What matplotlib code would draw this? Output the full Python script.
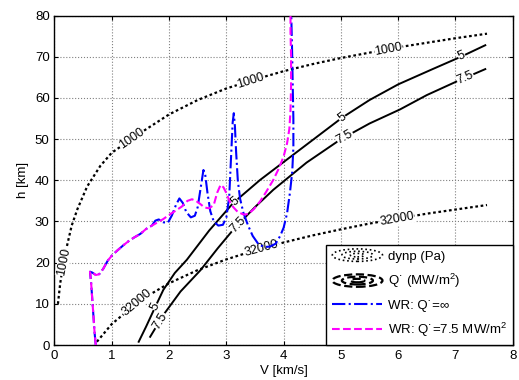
import numpy as np
import matplotlib
matplotlib.use("Agg")
import matplotlib.pyplot as plt
from matplotlib.lines import Line2D
from matplotlib.patches import Ellipse
from matplotlib.legend_handler import HandlerBase

plt.rcParams['font.family'] = ['Liberation Sans', 'DejaVu Sans']
plt.rcParams['mathtext.fontset'] = 'custom'
plt.rcParams['mathtext.rm'] = 'Liberation Sans'
plt.rcParams['mathtext.it'] = 'Liberation Sans'

# dynamic pressure contours (V [km/s], h [km])
dp1000_v = [0.06, 0.10, 0.15, 0.20, 0.30, 0.40, 0.57, 0.80, 1.0, 1.5, 2.0, 2.5, 3.0,
            3.5, 4.0, 4.5, 5.0, 5.5, 6.0, 6.5, 7.0, 7.55]
dp1000_h = [10.0, 15.0, 19.5, 23.0, 29.0, 33.0, 38.5, 43.5, 46.7, 51.5, 56.0, 59.5, 62.3,
            64.5, 66.5, 68.2, 69.7, 71.0, 72.3, 73.4, 74.5, 75.6]
dp32000_v = [0.74, 1.0, 1.5, 2.0, 2.5, 3.0, 3.5, 4.0, 4.5, 5.0, 5.5, 6.0, 6.5, 7.0, 7.55]
dp32000_h = [0.8, 5.1, 10.9, 15.0, 18.2, 20.8, 23.0, 24.9, 26.6, 28.1, 29.5, 30.7, 31.9, 32.9, 34.0]

# heat flux contours
q5_v = [1.47, 1.6, 1.75, 1.9, 2.1, 2.31, 2.7, 3.12, 3.59, 4.29, 5.02, 5.5, 6.0, 6.6, 7.11, 7.52]
q5_h = [0.8, 4.5, 9.0, 13.4, 17.5, 20.7, 27.8, 34.5, 40.1, 47.5, 55.2, 59.5, 63.3, 67.0, 70.1, 72.8]
q75_v = [1.67, 1.9, 2.2, 2.55, 2.85, 3.12, 3.5, 3.82, 4.4, 4.99, 5.5, 6.03, 6.5, 7.02, 7.52]
q75_h = [2.0, 7.3, 13.0, 18.2, 23.5, 28.0, 33.5, 37.7, 44.3, 49.9, 53.8, 57.2, 60.7, 64.0, 67.0]

# WR trajectories
wr_low_v = [0.72, 0.70, 0.68, 0.66, 0.64, 0.62, 0.66, 0.72, 0.78, 0.85, 0.93, 1.0, 1.1,
            1.2, 1.3, 1.4, 1.5, 1.6, 1.7]
wr_low_h = [0.0, 3.0, 7.0, 11.0, 15.0, 17.8, 17.6, 17.0, 17.2, 18.5, 20.5, 21.7, 23.0,
            24.2, 25.3, 26.2, 27.0, 28.2, 29.0]

wr_inf_v = wr_low_v + [1.76, 1.82, 1.9, 1.98, 2.05, 2.12, 2.18, 2.24, 2.3, 2.38, 2.45, 2.5,
                       2.55, 2.6, 2.63, 2.67, 2.72, 2.78, 2.86, 2.94, 3.0, 3.05, 3.08, 3.11,
                       3.13, 3.15, 3.17, 3.2, 3.24, 3.3, 3.38, 3.46, 3.56, 3.66, 3.76, 3.86,
                       3.94, 4.0, 4.06, 4.11, 4.15, 4.17, 4.17, 4.16, 4.15, 4.14, 4.13]
wr_inf_h = wr_low_h + [30.2, 30.5, 29.8, 29.7, 31.5, 34.0, 35.6, 34.5, 32.3, 31.0, 31.4, 33.5,
                       38.0, 42.5, 41.5, 37.0, 32.5, 30.0, 29.0, 29.2, 31.0, 36.0, 45.0, 54.0,
                       56.3, 53.0, 47.0, 40.0, 35.5, 32.0, 29.0, 26.5, 24.5, 23.8, 23.9, 24.6,
                       26.5, 28.5, 32.0, 37.0, 42.0, 48.0, 55.0, 62.0, 70.0, 76.0, 82.0]

wr_q75_v = wr_low_v + [1.8, 1.9, 2.0, 2.1, 2.22, 2.32, 2.4, 2.47, 2.54, 2.62, 2.7, 2.78,
                       2.84, 2.9, 2.95, 3.0, 3.06, 3.12, 3.2, 3.3, 3.38, 3.48, 3.59, 3.7,
                       3.82, 3.92, 4.0, 4.06, 4.1, 4.12, 4.13, 4.13, 4.12, 4.12]
wr_q75_h = wr_low_h + [29.8, 30.6, 31.6, 32.5, 33.6, 35.0, 35.4, 35.0, 34.3, 33.4, 33.2, 34.0,
                       37.0, 38.9, 38.3, 36.9, 34.8, 33.5, 32.3, 31.7, 31.8, 33.0, 34.9, 37.3,
                       40.1, 43.0, 45.8, 49.0, 52.5, 57.0, 63.0, 70.0, 76.0, 82.0]

# where the contour labels sit (V)
dp1000_lab = [0.16, 1.35, 3.42, 5.83]
dp32000_lab = [1.44, 3.62, 5.98]
q5_lab = [1.76, 3.15, 5.02, 7.11]
q75_lab = [1.84, 3.2, 5.07, 7.17]


class RingHandler(HandlerBase):
    def __init__(self, ls, lw):
        super().__init__()
        self.ls = ls
        self.lw = lw

    def create_artists(self, legend, orig_handle, xdescent, ydescent, width, height,
                       fontsize, trans):
        cx = width / 2 - xdescent
        cy = height / 2 - ydescent
        out = []
        for s in [1.0, 0.62, 0.28]:
            e = Ellipse((cx, cy), width * s, height * 1.35 * s, fill=False, ec='k',
                        ls=self.ls, lw=self.lw, transform=trans)
            out.append(e)
        return out


def label_line(ax, xs, ys, spots, txt):
    xs = np.asarray(xs)
    ys = np.asarray(ys)
    for v in spots:
        h = np.interp(v, xs, ys)
        i = int(np.clip(np.searchsorted(xs, v), 1, len(xs) - 1))
        ang = np.degrees(np.arctan2(ys[i] - ys[i - 1], xs[i] - xs[i - 1]))
        ax.text(v, h, txt, rotation=ang, transform_rotates_text=True, rotation_mode='anchor',
                ha='center', va='center', fontsize=9, zorder=3,
                bbox=dict(fc='white', ec='none', pad=0.2))


fig = plt.figure(figsize=(5.19, 3.80), dpi=100)
ax = fig.add_axes([0.105, 0.092, 0.883, 0.867])

dots = (0, (1.2, 1.2))
ax.plot(dp1000_v, dp1000_h, color='k', ls=dots, lw=1.6, zorder=2)
ax.plot(dp32000_v, dp32000_h, color='k', ls=dots, lw=1.6, zorder=2)
ax.plot(q5_v, q5_h, color='k', lw=1.4, zorder=2)
ax.plot(q75_v, q75_h, color='k', lw=1.4, zorder=2)

label_line(ax, dp1000_v, dp1000_h, dp1000_lab, '1000')
label_line(ax, dp32000_v, dp32000_h, dp32000_lab, '32000')
label_line(ax, q5_v, q5_h, q5_lab, '5')
label_line(ax, q75_v, q75_h, q75_lab, '7.5')

ax.plot(wr_inf_v, wr_inf_h, color='b', ls='-.', lw=1.5, zorder=4)
ax.plot(wr_q75_v, wr_q75_h, color='magenta', ls='--', lw=1.5, zorder=5)

ax.set_xlim(0, 8)
ax.set_ylim(0, 80)
ax.set_xticks(range(0, 9))
ax.set_yticks(range(0, 81, 10))
ax.tick_params(direction='in', top=True, right=True, labelsize=9.5, length=3)
ax.grid(True, color='gray', ls=':', lw=0.8)
for sp in ax.spines.values():
    sp.set_linewidth(1.0)
ax.set_xlabel('V [km/s]', fontsize=9.5, labelpad=2)
ax.set_ylabel('h [km]', fontsize=9.5, labelpad=4)

h_dp = Line2D([], [], color='k')
h_q = Line2D([], [], color='k')
h_inf = Line2D([], [], color='b', ls='-.', lw=1.5)
h_75 = Line2D([], [], color='magenta', ls='--', lw=1.5)
leg = ax.legend([h_dp, h_q, h_inf, h_75],
                ['dynp (Pa)', 'Q\u02d9 (MW/m$^2$)', 'WR: Q\u02d9=\u221e',
                 'WR: Q\u02d9=7.5 MW/m$^2$'],
                handler_map={h_dp: RingHandler(':', 1.2), h_q: RingHandler('--', 1.6)},
                loc='lower right', borderaxespad=0, fontsize=9.5, fancybox=False,
                framealpha=1, edgecolor='k', handlelength=3.8, handletextpad=0.4,
                labelspacing=0.7, borderpad=0.45)
leg.get_frame().set_linewidth(1.0)
leg.set_zorder(6)

fig.savefig('out.png', dpi=100)
